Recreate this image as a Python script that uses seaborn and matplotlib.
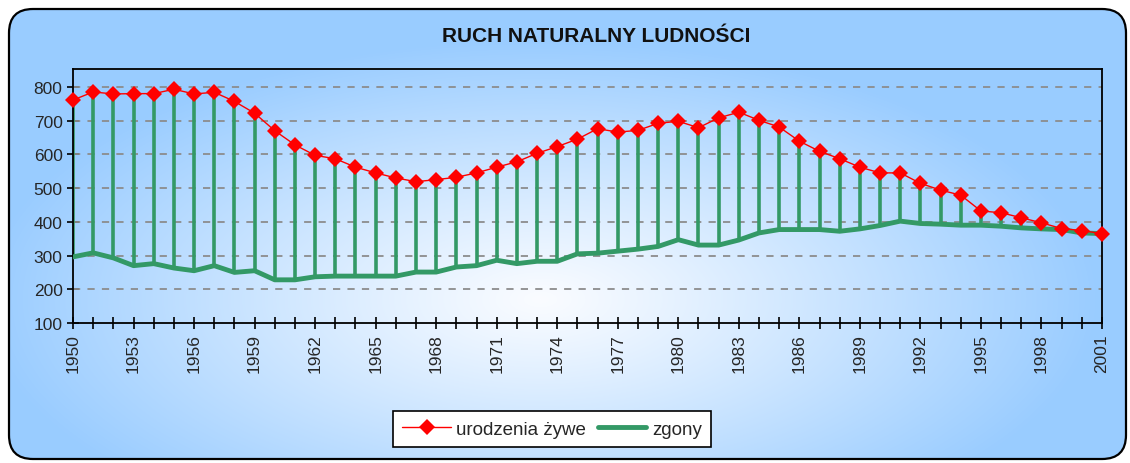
import numpy as np
import pandas as pd
import matplotlib
matplotlib.use("Agg")
import matplotlib.pyplot as plt
from matplotlib.patches import FancyBboxPatch
import seaborn as sns

# data (thousands)
years = list(range(1950, 2002))
births = [761, 785, 779, 780, 780, 793, 779, 784, 757, 722,
          670, 628, 597, 587, 562, 545, 530, 519, 525, 532,
          545, 562, 578, 603, 623, 645, 676, 666, 671, 692,
          698, 679, 708, 725, 701, 681, 639, 609, 587, 562,
          545, 545, 514, 494, 479, 432, 427, 412, 397, 380,
          374, 365]
deaths = [296, 308, 293, 270, 276, 263, 255, 270, 250, 255,
          228, 228, 237, 239, 239, 239, 239, 251, 251, 266,
          270, 286, 276, 283, 283, 305, 307, 313, 319, 327,
          347, 331, 331, 346, 367, 377, 377, 377, 372, 379,
          389, 402, 395, 393, 390, 390, 387, 382, 379, 377,
          367, 365]
tick_years = list(range(1950, 1999, 3)) + [2001]

title = "RUCH NATURALNY LUDNOŚCI"
label_births = "urodzenia żywe"
label_deaths = "zgony"

df = pd.DataFrame({"rok": years, "urodzenia": births, "zgony": deaths})

sns.set_theme(style="white")
plt.rcParams["font.family"] = ["Liberation Sans", "DejaVu Sans"]

W, H = 1130, 464
fig = plt.figure(figsize=(W / 100, H / 100), dpi=100, facecolor="white")

# background panel with radial gradient and rounded corners
bg = fig.add_axes([0, 0, 1, 1])
bg.set_xlim(0, W)
bg.set_ylim(H, 0)
bg.axis("off")
xx, yy = np.meshgrid(np.arange(W), np.arange(H))
r = np.sqrt(((xx - 540) / 560) ** 2 + ((yy - 300) / 260) ** 2)
t = np.clip(r, 0, 1) ** 1.1
edge = np.array([153, 204, 255]) / 255
center = np.array([250, 252, 255]) / 255
img = center[None, None, :] * (1 - t[..., None]) + edge[None, None, :] * t[..., None]
im = bg.imshow(img, extent=[0, W, H, 0], interpolation="bilinear", zorder=0)
panel = FancyBboxPatch((9, 10), 1117, 450, boxstyle="round,pad=0,rounding_size=24",
                       facecolor="none", edgecolor="black", linewidth=1.6, zorder=2)
bg.add_patch(panel)
im.set_clip_path(panel)

bg.text(596, 37, title, ha="center", va="center", fontsize=15,
        fontweight="bold", color="#111111")

# main plot area
ax = fig.add_axes([73 / W, (H - 324) / H, 1029 / W, (324 - 70) / H])
ax.patch.set_alpha(0)

ax.vlines(df["rok"], df["zgony"], df["urodzenia"], colors="#339966",
          linewidth=2.6, zorder=2)
sns.lineplot(data=df, x="rok", y="zgony", ax=ax, color="#339966",
             linewidth=3.5, label=label_deaths, zorder=3)
sns.lineplot(data=df, x="rok", y="urodzenia", ax=ax, color="#FF0000",
             linewidth=1.0, marker="D", markersize=8, markeredgewidth=0,
             label=label_births, zorder=4, clip_on=False)

ax.set_xlim(1950, 2001)
ax.set_ylim(100, 853)
ax.set_yticks(range(100, 801, 100))
ax.set_xticks(years, minor=False)
ax.set_xticklabels([str(y) if y in tick_years else "" for y in years],
                   rotation=90, fontsize=12.5)
ax.tick_params(axis="y", labelsize=12.5)
ax.tick_params(axis="both", direction="inout", length=9, width=1.2,
               color="black", left=True, bottom=True, pad=3)
for y in range(200, 801, 100):
    ax.axhline(y, color="#8c8c8c", linestyle=(0, (4, 4)), linewidth=1.3, zorder=1)
for s in ax.spines.values():
    s.set_color("black")
    s.set_linewidth(1.3)
ax.set_xlabel("")
ax.set_ylabel("")

handles, labels = ax.get_legend_handles_labels()
order = [labels.index(label_births), labels.index(label_deaths)]
leg = fig.legend([handles[i] for i in order], [labels[i] for i in order],
                 loc="center", bbox_to_anchor=(552 / W, 1 - 430 / H),
                 ncol=2, frameon=True, fontsize=13.5, fancybox=False,
                 handlelength=2.6, columnspacing=0.6, handletextpad=0.3,
                 borderpad=0.5)
leg.get_frame().set_edgecolor("black")
leg.get_frame().set_linewidth(1.2)
leg.get_frame().set_facecolor("white")
leg.get_frame().set_alpha(1)
if ax.get_legend():
    ax.get_legend().remove()

fig.savefig("out.png", dpi=100, facecolor="white")
